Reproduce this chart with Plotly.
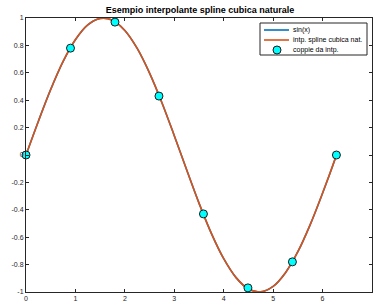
import plotly.graph_objects as go

# curve samples
x_curve = [0, 0.25, 0.5, 0.75, 1.0, 1.25, 1.5, 1.75, 2.0, 2.25, 2.5, 2.75, 3.0, 3.25,
           3.5, 3.75, 4.0, 4.25, 4.5, 4.75, 5.0, 5.25, 5.5, 5.75, 6.0, 6.25, 6.28]
y_sin = [0, 0.247, 0.479, 0.682, 0.841, 0.949, 0.997, 0.984, 0.909, 0.778, 0.598, 0.382,
         0.141, -0.108, -0.351, -0.572, -0.757, -0.895, -0.978, -0.999, -0.959, -0.859,
         -0.706, -0.508, -0.279, -0.033, 0]
y_spline = [0, 0.245, 0.478, 0.683, 0.843, 0.950, 0.997, 0.984, 0.909, 0.778, 0.598, 0.382,
            0.141, -0.108, -0.351, -0.572, -0.757, -0.895, -0.978, -0.999, -0.959, -0.859,
            -0.706, -0.508, -0.278, -0.032, 0]
x_nodes = [0, 0.90, 1.80, 2.69, 3.59, 4.49, 5.39, 6.28]
y_nodes = [0, 0.78, 0.97, 0.43, -0.43, -0.97, -0.78, 0]

x_ticks = [0, 1, 2, 3, 4, 5, 6, 7]
y_ticks = [-1, -0.8, -0.6, -0.4, -0.2, 0, 0.2, 0.4, 0.6, 0.8, 1]
y_ticklabels = ["-1", "-0.8", "-0.6", "-0.4", "-0.2", "0", "0.2", "0.4", "0.6", "0.8", "1"]

series_names = ["sin(x)", "intp. spline cubica nat.", "coppie da intp."]
series_colors = ["#0072BD", "#D95319", "#00FFFF"]

W, H = 374, 306
L, R, T, B = 26, 2, 18, 14
PW, PH = W - L - R, H - T - B


def px(X):
    return (X - L) / PW


def py(Y):
    return (H - B - Y) / PH


fig = go.Figure()
fig.add_trace(go.Scatter(x=x_curve, y=y_sin, mode="lines", name=series_names[0],
                         line=dict(color=series_colors[0], width=1.6, shape="spline")))
fig.add_trace(go.Scatter(x=x_curve, y=y_spline, mode="lines", name=series_names[1],
                         line=dict(color=series_colors[1], width=1.6, shape="spline")))
fig.add_trace(go.Scatter(x=x_nodes, y=y_nodes, mode="markers", name=series_names[2],
                         marker=dict(color=series_colors[2], size=8,
                                     line=dict(color="#1a1a1a", width=1)),
                         cliponaxis=False))

axis_common = dict(showgrid=False, zeroline=False, showline=True, mirror="ticks",
                   linecolor="#262626", linewidth=1, ticks="inside", ticklen=3,
                   tickcolor="#262626", automargin=False,
                   tickfont=dict(family="Liberation Sans, Arial", size=7, color="#262626"))

# manual legend (MATLAB-style compact box)
shapes = [dict(type="rect", xref="paper", yref="paper",
               x0=px(260), x1=px(367), y0=py(55), y1=py(23),
               fillcolor="white", line=dict(color="#262626", width=1), layer="above")]
annotations = []
rows_y = [30, 40, 50]
for i, (name, col) in enumerate(zip(series_names, series_colors)):
    yy = py(rows_y[i])
    if i < 2:
        shapes.append(dict(type="line", xref="paper", yref="paper",
                           x0=px(264), x1=px(289), y0=yy, y1=yy,
                           line=dict(color=col, width=1.6), layer="above"))
    else:
        shapes.append(dict(type="circle", xref="paper", yref="paper",
                           x0=px(273), x1=px(281), y0=py(rows_y[i] + 4), y1=py(rows_y[i] - 4),
                           fillcolor=col, line=dict(color="#1a1a1a", width=1), layer="above"))
    annotations.append(dict(text=name, xref="paper", yref="paper", x=px(291), y=yy,
                            xanchor="left", yanchor="middle", showarrow=False,
                            font=dict(family="Liberation Sans, Arial", size=7, color="#000000")))

fig.update_layout(
    width=W, height=H,
    margin=dict(l=L, r=R, t=T, b=B),
    paper_bgcolor="white", plot_bgcolor="white",
    title=dict(text="<b>Esempio interpolante spline cubica naturale</b>",
               x=0.535, xanchor="center", y=0.968, yanchor="middle",
               font=dict(family="Liberation Sans, Arial", size=9, color="#000000")),
    xaxis=dict(range=[0, 7], tickvals=x_ticks, **axis_common),
    yaxis=dict(range=[-1, 1], tickvals=y_ticks, ticktext=y_ticklabels, **axis_common),
    shapes=shapes, annotations=annotations,
    showlegend=False,
)

fig.write_html("out.html", config={"displayModeBar": False},
               post_script="document.body.style.margin='0';document.body.style.padding='0';")
